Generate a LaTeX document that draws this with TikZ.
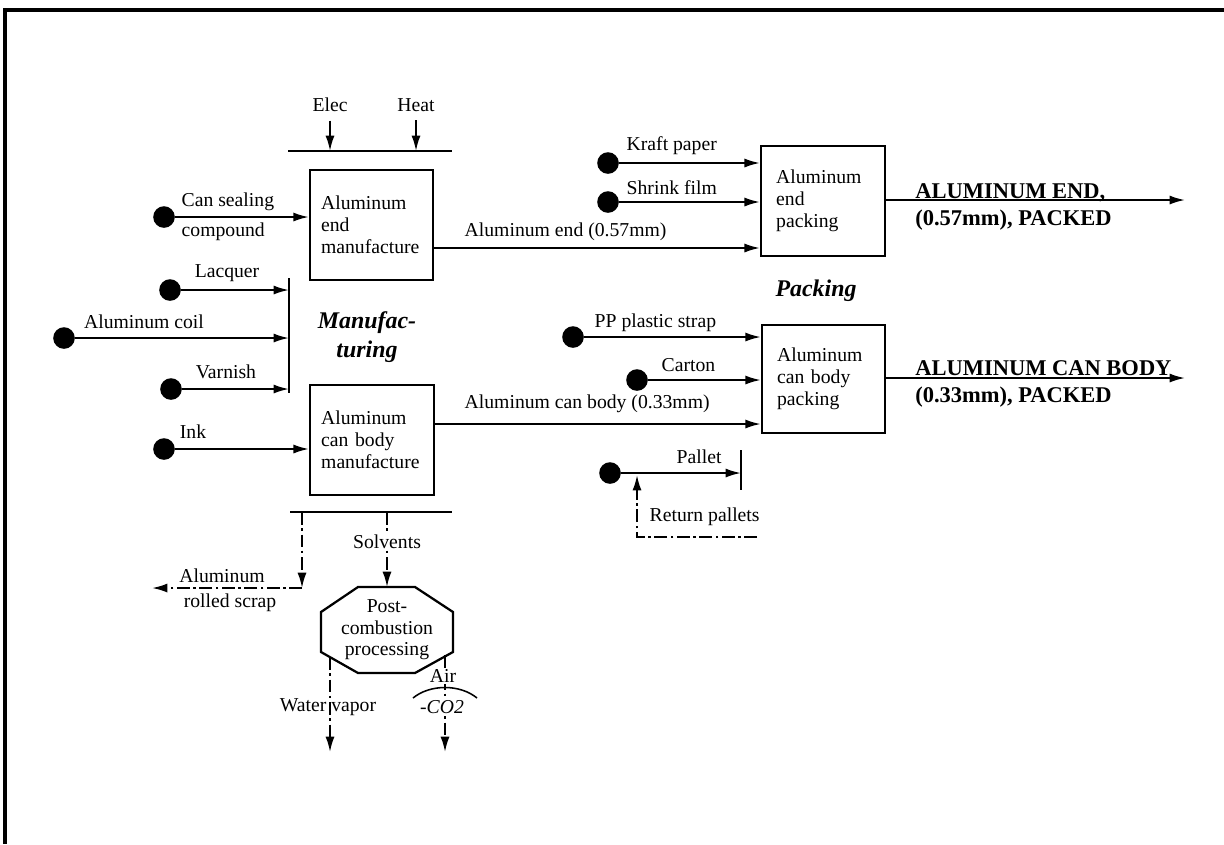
\documentclass[tikz,border=0pt]{standalone}
\usepackage{fontspec}
\setmainfont{Liberation Serif}
\usetikzlibrary{arrows.meta,positioning,calc}

\begin{document}
\begin{tikzpicture}[x=0.025cm, y=-0.025cm,
    txt/.style={font=\fontsize{14}{15.4}\selectfont, inner sep=1pt},
    proc/.style={draw, line width=1.6pt, font=\fontsize{14}{15.6}\selectfont, align=left,
        minimum height=2.75cm, inner xsep=0.28cm},
    src/.style={circle, fill, inner sep=0pt, minimum size=0.54cm},
    flow/.style={line width=1.4pt, -{Latex[length=11pt,width=6.5pt]}},
    waste/.style={flow, dash pattern=on 9pt off 2.5pt on 2pt off 2.5pt},
    bar/.style={line width=1.6pt},
    stage/.style={font=\bfseries\itshape\fontsize{17}{21}\selectfont, align=center},
    product/.style={font=\bfseries\fontsize{16}{18}\selectfont, anchor=base west, inner sep=0pt}]
    \useasboundingbox (0,0) rectangle (1224,844);

    % Frame
    \draw[line width=2.2pt] (1224,10) -- (5,10) -- (5,844);

    % Process boxes
    \node[proc, text width=2.52cm] (endman) at (371.5,225) {Aluminum\\end\\manufacture};
    \node[proc, text width=2.54cm] (bodyman) at (372,440) {Aluminum\\can body\\manufacture};
    \node[proc, text width=2.34cm, inner xsep=0.38cm] (endpack) at (823,201) {Aluminum\\end\\packing};
    \node[proc, text width=2.32cm, inner xsep=0.38cm, minimum height=2.7cm] (bodypack) at (823.5,379) {Aluminum\\can body\\packing};

    % Stage titles
    \node[stage] (manu) at (367,337) {Manufac-\\turing};
    \node[stage] (pack) at (816,291) {Packing};

    % Input sources
    \foreach \n/\x/\y in {seal/164/217, lacq/170/290, coil/64/338, varn/171/389, ink/164/449,
        kraft/608/163, shrink/608/202, strap/573/337, carton/637/380, pallet/610/473} {
        \node[src] (\n) at (\x,\y) {};
    }

    % Input labels
    \node[txt, anchor=west] (lseal) at (180,202) {Can sealing};
    \node[txt, anchor=west] (lseal2) at (180,232) {compound};
    \node[txt] (llacq) at (227,273) {Lacquer};
    \node[txt] (lcoil) at (144,322) {Aluminum coil};
    \node[txt] (lvarn) at (226,372) {Varnish};
    \node[txt] (link) at (193,432) {Ink};
    \node[txt, anchor=west] (lkraft) at (625,146) {Kraft paper};
    \node[txt, anchor=west] (lshrink) at (625,188) {Shrink film};
    \node[txt, anchor=west] (lstrap) at (593,323) {PP plastic strap};
    \node[txt, anchor=west] (lcarton) at (660,365) {Carton};
    \node[txt, anchor=west] (lpallet) at (675,457) {Pallet};
    \node[txt, anchor=west] (lreturn) at (648,517) {Return pallets};

    % Energy inputs
    \node[txt] (elec) at (330,105) {Elec};
    \node[txt] (heat) at (416,105) {Heat};
    \coordinate (topbar) at (370,151);
    \draw[bar] (288,151) -- (452,151);
    \foreach \n in {elec,heat} {
        \draw[flow, shorten <=5pt] (\n) -- (\n |- topbar);
    }

    % Coil, lacquer and varnish bar
    \coordinate (mixbar) at (289,335);
    \draw[bar] (289,278) -- (289,393);
    \foreach \n in {lacq,coil,varn} {
        \draw[flow] (\n) -- (\n -| mixbar);
    }
    \draw[flow] (seal) -- (seal -| endman.west);
    \draw[flow] (ink) -- (ink -| bodyman.west);

    % Intermediate products
    \coordinate (endlvl) at (0,248);
    \coordinate (bodylvl) at (0,424);
    \draw[flow] (endman.east |- endlvl) -- (endpack.west |- endlvl);
    \draw[flow] (bodyman.east |- bodylvl) -- (bodypack.west |- bodylvl);
    \node[txt, anchor=west] (lend) at (463,232) {Aluminum end (0.57mm)};
    \node[txt, anchor=west] (lbody) at (463,404) {Aluminum can body (0.33mm)};

    % Packing inputs
    \foreach \n in {kraft,shrink} {
        \draw[flow] (\n) -- (\n -| endpack.west);
    }
    \foreach \n in {strap,carton} {
        \draw[flow] (\n) -- (\n -| bodypack.west);
    }
    \coordinate (palletbar) at (741,470);
    \draw[bar] (741,450) -- (741,490);
    \draw[flow] (pallet) -- (pallet -| palletbar);
    \coordinate (retend) at (757,537);
    \coordinate (retin) at (637,475);
    \draw[waste] (retend) -| (retin);

    % Final products
    \coordinate (endout) at (1185,200);
    \coordinate (bodyout) at (1185,378);
    \draw[flow] (endpack.east |- endout) -- (endout);
    \draw[flow] (bodypack.east |- bodyout) -- (bodyout);
    \node[product] (oend) at (915,198) {ALUMINUM END,};
    \node[product] (oend2) at (915,225) {(0.57mm), PACKED};
    \node[product] (obody) at (915,375) {ALUMINUM CAN BODY};
    \node[product] (obody2) at (915,402) {(0.33mm), PACKED};

    % Emissions and scrap
    \draw[bar] (290,512) -- (452,512);
    \coordinate (scraptop) at (302,512);
    \coordinate (scrapbend) at (302,588);
    \coordinate (scrapout) at (152,588);
    \draw[waste] (scraptop) -- (scrapbend);
    \draw[waste] (scrapbend) -- (scrapout);
    \node[txt] (lscrap) at (222,576) {Aluminum};
    \node[txt] (lscrap2) at (230,603) {rolled scrap};

    % Post-combustion unit
    \draw[line width=1.6pt] (358,587) -- (415,587) -- (453,612) -- (453,652) -- (415,673)
        -- (358,673) -- (321,652) -- (321,612) -- cycle;
    \node[txt, align=center] (post) at (387,630) {Post-\\combustion\\processing};
    \coordinate (solvtop) at (387,512);
    \coordinate (posttop) at (387,587);
    \draw[waste] (solvtop) -- node[txt, fill=white, pos=0.4] (solv) {Solvents} (posttop);

    \coordinate (vapin) at (330,657);
    \coordinate (vapout) at (330,752);
    \draw[waste] (vapin) -- (vapout);
    \node[txt] (vap) at (328,707) {Water vapor};

    \coordinate (airin) at (445,655);
    \coordinate (airout) at (445,752);
    \draw[waste] (airin) -- (airout);
    \node[txt, fill=white] (air) at (443,676) {Air};
    \node[txt, fill=white] (co2) at (442,707) {\textit{-CO2}};
    \draw[line width=1.1pt] (413,698) .. controls (430,684) and (460,684) .. (477,698);

\end{tikzpicture}
\end{document}
